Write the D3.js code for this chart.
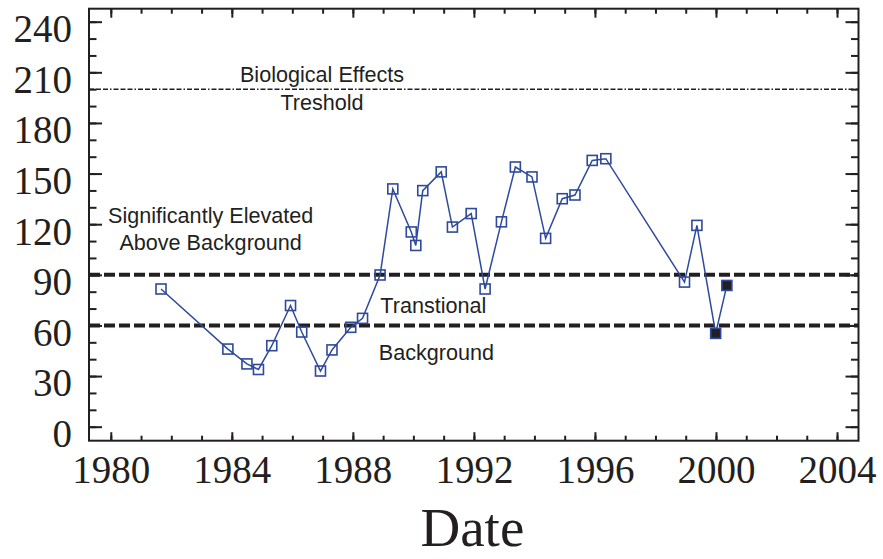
<!DOCTYPE html>
<html>
<head>
<meta charset="utf-8">
<script src="https://cdn.jsdelivr.net/npm/d3@7"></script>
<style>
  html, body { margin: 0; padding: 0; background: #fff; }
  svg { display: block; }
</style>
</head>
<body>
<svg id="chart" width="883" height="559"></svg>
<script>
// Sampling dates (decimal years) and measured concentrations
const years = [
  1981.66, 1983.87, 1984.50, 1984.88, 1985.32, 1985.94, 1986.31, 1986.93,
  1987.31, 1987.93, 1988.32, 1988.90, 1989.32, 1989.93, 1990.08, 1990.31,
  1990.92, 1991.29, 1991.91, 1992.37, 1992.91, 1993.37, 1993.92, 1994.37,
  1994.92, 1995.34, 1995.91, 1996.36, 1998.96, 1999.37, 1999.99, 2000.36
];
const values = [
  81.6, 46.0, 37.2, 33.9, 48.0, 71.8, 56.1, 33.0,
  45.5, 58.9, 64.2, 89.9, 140.9, 115.4, 107.4, 139.9,
  151.0, 118.3, 126.3, 81.6, 121.4, 153.9, 148.0, 111.6,
  135.1, 137.3, 157.8, 158.8, 85.7, 119.3, 55.3, 83.7
];
// Marker style per sample: open squares, the two latest samples solid
const markerType = [
  "open", "open", "open", "open", "open", "open", "open", "open",
  "open", "open", "open", "open", "open", "open", "open", "open",
  "open", "open", "open", "open", "open", "open", "open", "open",
  "open", "open", "open", "open", "open", "open", "filled", "filled"
];

// Axis ticks
const xMajorTicks = [1980, 1984, 1988, 1992, 1996, 2000, 2004];
const xMinorTicks = d3.range(1980, 2005, 1);
const yMajorTicks = [0, 30, 60, 90, 120, 150, 180, 210, 240];
const yMinorTicks = d3.range(0, 250, 10);

// Reference levels and their captions
const thresholds = [
  { value: 200, style: "threshold" },
  { value: 90, style: "band" },
  { value: 60, style: "band" }
];
const captions = [
  { text: "Biological Effects", year: 1986.98, value: 200, dy: -7 },
  { text: "Treshold", year: 1986.98, value: 200, dy: 21 },
  { text: "Significantly Elevated", year: 1983.30, value: 120, dy: -1 },
  { text: "Above Background", year: 1983.30, value: 120, dy: 26 },
  { text: "Transtional", year: 1990.66, value: 60, dy: -12 },
  { text: "Background", year: 1990.76, value: 60, dy: 35 }
];

const svg = d3.select("#chart");
const margin = { left: 89, right: 883 - 858.5, top: 8.7, bottom: 559 - 440.7 };
const W = 883 - margin.left - margin.right;
const H = 559 - margin.top - margin.bottom;

const x = d3.scaleLinear().domain([1979.28, 2004.71]).range([0, W]);
const y = d3.scaleLinear().domain([-8.3, 247.7]).range([H, 0]);

const g = svg.append("g").attr("transform", `translate(${margin.left},${margin.top})`);

const ink = "#231f20";
const blue = "#2f4a9c";
const serif = "'Liberation Serif', 'Times New Roman', serif";
const sans = "'Liberation Sans', Arial, Helvetica, sans-serif";

// Reference lines
thresholds.forEach(t => {
  const ln = g.append("line")
    .attr("x1", 0).attr("x2", W)
    .attr("y1", y(t.value)).attr("y2", y(t.value))
    .attr("stroke", ink);
  if (t.style === "threshold") {
    ln.attr("stroke-width", 1.5).attr("stroke-dasharray", "5,2,5,2,5,2,1.5,2");
  } else {
    ln.attr("stroke-width", 4).attr("stroke-dasharray", "11,4");
  }
});

// Captions
g.selectAll("text.caption").data(captions).join("text")
  .attr("class", "caption")
  .attr("x", d => x(d.year))
  .attr("y", d => y(d.value) + d.dy)
  .attr("text-anchor", "middle")
  .attr("font-family", sans)
  .attr("font-size", 21.6)
  .attr("fill", ink)
  .text(d => d.text);

// Series line
const pts = years.map((yr, i) => ({ yr, v: values[i], type: markerType[i] }));
g.append("path")
  .datum(pts)
  .attr("fill", "none")
  .attr("stroke", blue)
  .attr("stroke-width", 1.5)
  .attr("d", d3.line().x(d => x(d.yr)).y(d => y(d.v)));

// Square markers
const s = 10;
g.selectAll("rect.pt").data(pts).join("rect")
  .attr("class", "pt")
  .attr("x", d => x(d.yr) - s / 2)
  .attr("y", d => y(d.v) - s / 2)
  .attr("width", s).attr("height", s)
  .attr("fill", d => d.type === "filled" ? ink : "none")
  .attr("stroke", blue)
  .attr("stroke-width", 1.6);

// Axes: inward ticks on all four sides
function styleAxis(sel) {
  sel.select(".domain").remove();
  sel.selectAll(".tick line").attr("stroke", ink).attr("stroke-width", 2);
}

g.append("g").attr("transform", `translate(0,${H})`)
  .call(d3.axisBottom(x).tickValues(xMinorTicks).tickSize(-5).tickFormat(""))
  .call(styleAxis);
const xb = g.append("g").attr("transform", `translate(0,${H})`)
  .call(d3.axisBottom(x).tickValues(xMajorTicks).tickSize(-8.5).tickFormat(d3.format("d")))
  .call(styleAxis);
xb.selectAll(".tick text")
  .attr("y", 42.6).attr("dy", 0)
  .attr("font-family", serif).attr("font-size", 39).attr("fill", ink);

g.append("g")
  .call(d3.axisTop(x).tickValues(xMinorTicks).tickSize(-5).tickFormat(""))
  .call(styleAxis);
g.append("g")
  .call(d3.axisTop(x).tickValues(xMajorTicks).tickSize(-9).tickFormat(""))
  .call(styleAxis);

g.append("g")
  .call(d3.axisLeft(y).tickValues(yMinorTicks).tickSize(-7.5).tickFormat(""))
  .call(styleAxis);
const yl = g.append("g")
  .call(d3.axisLeft(y).tickValues(yMajorTicks).tickSize(-13).tickPadding(17).tickFormat(d3.format("d")))
  .call(styleAxis);
yl.selectAll(".tick text")
  .attr("dy", "0.51em")
  .attr("font-family", serif).attr("font-size", 39).attr("fill", ink);

g.append("g").attr("transform", `translate(${W},0)`)
  .call(d3.axisRight(y).tickValues(yMinorTicks).tickSize(-7.5).tickFormat(""))
  .call(styleAxis);
g.append("g").attr("transform", `translate(${W},0)`)
  .call(d3.axisRight(y).tickValues(yMajorTicks).tickSize(-13).tickFormat(""))
  .call(styleAxis);

// Frame
g.append("rect")
  .attr("x", 0).attr("y", 0).attr("width", W).attr("height", H)
  .attr("fill", "none").attr("stroke", ink).attr("stroke-width", 2);

// Axis title
svg.append("text")
  .attr("x", margin.left + x(1991.95))
  .attr("y", 546)
  .attr("text-anchor", "middle")
  .attr("font-family", serif)
  .attr("font-size", 55)
  .attr("fill", ink)
  .text("Date");
</script>
</body>
</html>
